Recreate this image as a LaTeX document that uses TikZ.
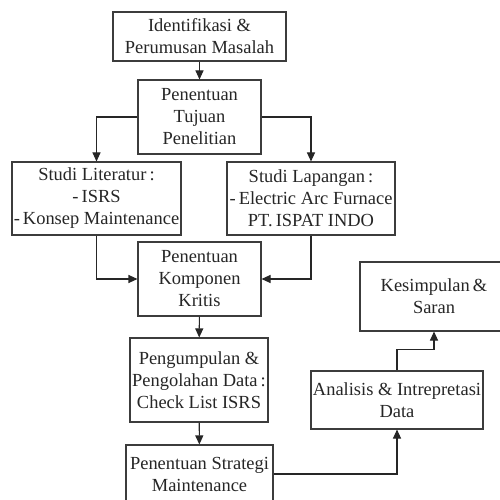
\documentclass[tikz,border=0pt]{standalone}
\usepackage{fontspec}
\setmainfont{Liberation Serif}
\usepackage{xcolor}
\definecolor{boxline}{RGB}{60,60,60}
\usepackage{tikz}
\usetikzlibrary{arrows.meta, positioning, calc}

\begin{document}
\begin{tikzpicture}[
    box/.style ={rectangle, draw=boxline, line width=0.6pt, fill=white,
                 inner sep=1pt, align=center, text=black!85,
                 font=\fontsize{10.5}{12.5}\selectfont},
    arrow/.style ={line width=0.6pt, color=black!85,
                   -{Triangle[length=1.8mm, width=1.6mm]}},
    link/.style ={line width=0.6pt, color=black!85}
]
\useasboundingbox (0,0) rectangle (10,-10);
%% --- kolom tengah ---
\node[box, minimum width=3.46cm, minimum height=0.98cm] (ident)   at (3.99,-0.73) {Identifikasi \&\\Perumusan Masalah};
\node[box, minimum width=2.46cm, minimum height=1.48cm] (tujuan)  at (3.99,-2.34) {Penentuan\\Tujuan\\Penelitian};
\node[box, minimum width=3.30cm, minimum height=1.46cm] (literatur) at (1.93,-3.97) {Studi Literatur\,:\\-\,ISRS\\-\,Konsep Maintenance};
\node[box, minimum width=3.36cm, minimum height=1.46cm] (lapangan)  at (6.22,-3.97) {Studi Lapangan\,:\\-\,Electric Arc Furnace\\PT.\,ISPAT INDO};
\node[box, minimum width=2.46cm, minimum height=1.48cm] (komponen) at (3.99,-5.58) {Penentuan\\Komponen\\Kritis};
\node[box, minimum width=2.76cm, minimum height=1.68cm] (kumpul)   at (3.98,-7.60) {Pengumpulan \&\\Pengolahan Data\,:\\Check List ISRS};
\node[box, minimum width=2.94cm, minimum height=1.16cm] (strategi) at (3.99,-9.48) {Penentuan Strategi\\Maintenance};
%% --- kolom kanan ---
\node[box, minimum width=3.44cm, minimum height=1.16cm] (analisis) at (7.94,-8.00) {Analisis \& Intrepretasi\\Data};
\node[box, minimum width=2.96cm, minimum height=1.38cm] (simpul)   at (8.68,-5.93) {Kesimpulan\,\&\\Saran};

%% --- alur ---
\draw[arrow] (ident) -- (tujuan);
\draw[arrow] (tujuan.west) -| (literatur.north);
\draw[arrow] (tujuan.east) -| (lapangan.north);
\draw[arrow] (literatur.south) |- (komponen.west);
\draw[arrow] (lapangan.south) |- (komponen.east);
\draw[arrow] (komponen) -- (kumpul);
\draw[arrow] (kumpul) -- (strategi);
\draw[arrow] (strategi.east) -| (analisis.south);
\coordinate (belok) at ($(analisis.north)+(0,0.42)$);
\draw[link] (analisis.north) -- (belok);
\draw[arrow] (belok) -| (simpul.south);
\end{tikzpicture}
\end{document}
